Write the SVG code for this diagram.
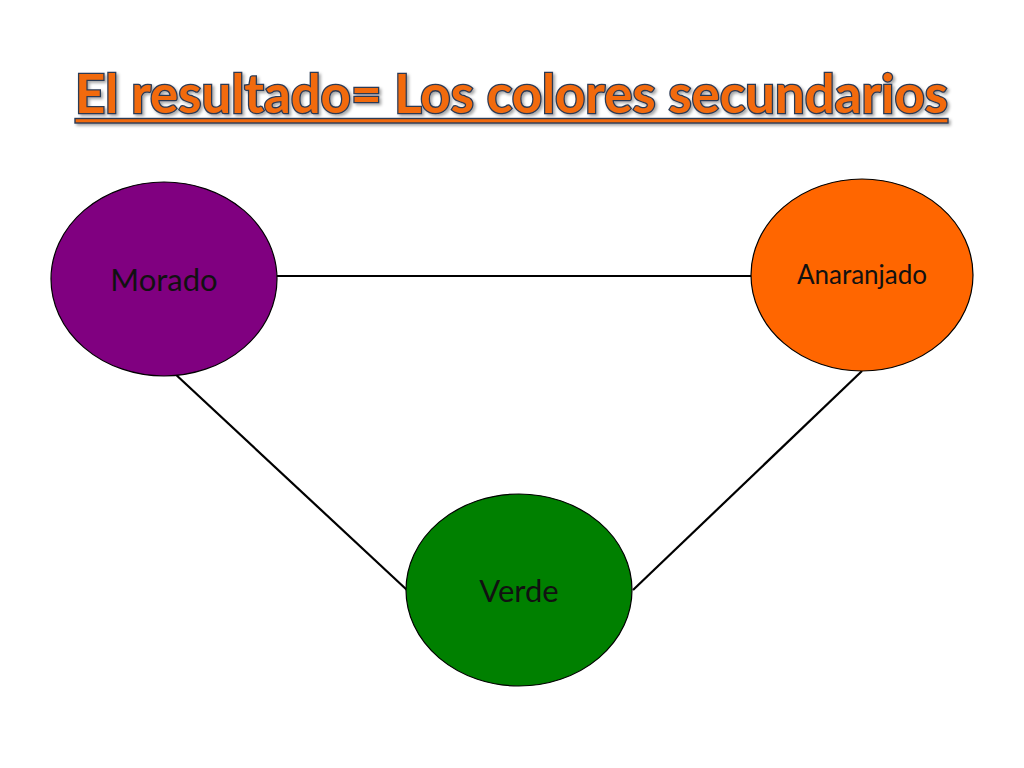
<svg xmlns="http://www.w3.org/2000/svg" width="1024" height="768" viewBox="0 0 1024 768">
<defs>
<style>
.node{stroke:#000;stroke-width:1.2}
.lbl{font-family:Lato,"Open Sans","Liberation Sans",sans-serif;fill:#111;text-anchor:middle}
.edge{stroke:#000;stroke-width:2.2;fill:none}
.title{font-family:Lato,"Open Sans","Liberation Sans",sans-serif;font-weight:bold;font-size:53px;fill:#F26B0F;stroke:#2B3A55;stroke-width:2.6;paint-order:stroke}
</style>
<filter id="sh" x="-5%" y="-20%" width="110%" height="150%">
<feDropShadow dx="2" dy="2" stdDeviation="1.5" flood-color="#000" flood-opacity="0.35"/>
</filter>
</defs>
<rect width="1024" height="768" fill="#fff"/>
<g id="title" filter="url(#sh)">
<text class="title" x="75" y="113" textLength="873" lengthAdjust="spacingAndGlyphs">El resultado= Los colores secundarios</text>
<rect x="75" y="118.5" width="873" height="4.5" fill="#F26B0F" stroke="#2B3A55" stroke-width="1.4"/>
</g>
<g id="connectors">
<line class="edge" x1="277" y1="276" x2="751" y2="276"/>
<line class="edge" x1="173" y1="372" x2="407" y2="590"/>
<line class="edge" x1="862" y1="371" x2="633" y2="590"/>
</g>
<g id="morado">
<ellipse class="node" cx="164" cy="279" rx="113" ry="97" fill="#800080"/>
<text class="lbl" x="164" y="291" font-size="31">Morado</text>
</g>
<g id="anaranjado">
<ellipse class="node" cx="862" cy="275" rx="111" ry="96" fill="#FF6600"/>
<text class="lbl" x="862" y="284" font-size="26">Anaranjado</text>
</g>
<g id="verde">
<ellipse class="node" cx="519" cy="590" rx="113" ry="96" fill="#008000"/>
<text class="lbl" x="519" y="602" font-size="31">Verde</text>
</g>
</svg>
